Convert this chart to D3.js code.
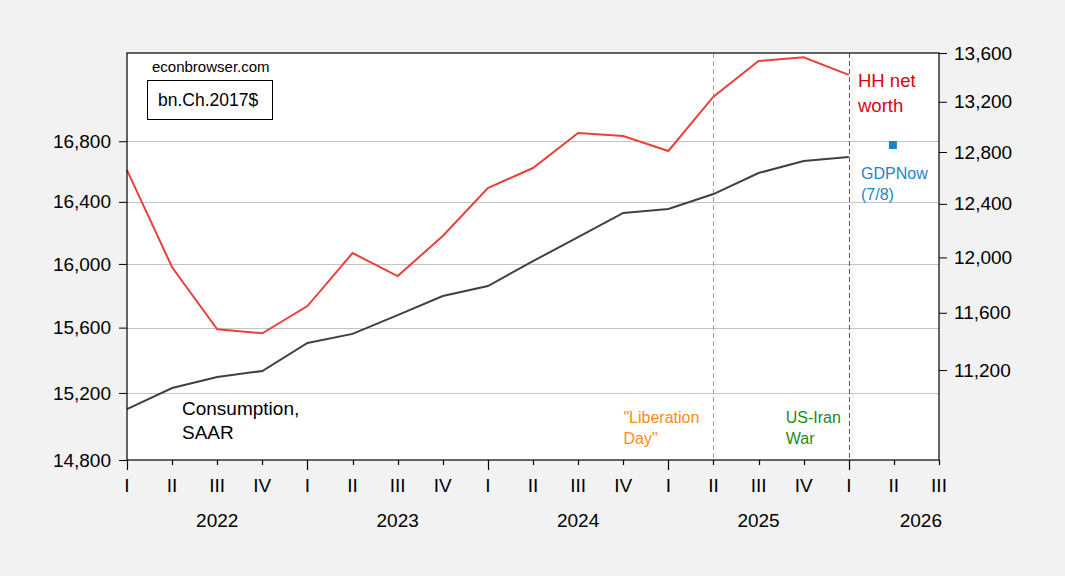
<!DOCTYPE html>
<html>
<head>
<meta charset="utf-8">
<script src="https://cdn.jsdelivr.net/npm/d3@7"></script>
<style>
  html, body { margin: 0; padding: 0; background: #f2f2f2; }
  svg { display: block; font-family: "Liberation Sans", Arial, sans-serif; }
</style>
</head>
<body>
<svg id="chart" width="1065" height="576"></svg>
<script>
// ---- data ----
const quarterLabels = ["I","II","III","IV","I","II","III","IV","I","II","III","IV","I","II","III","IV","I","II","III"];
const yearLabels = ["2022","2023","2024","2025","2026"];
const yearCenterIdx = [2, 6, 10, 14, 18];
const consumption = [15103, 15230, 15297, 15333, 15505, 15561, 15678, 15797, 15860, 16018, 16171, 16328, 16354, 16451, 16589, 16668, 16695];
const netWorth = [12659, 11928, 11483, 11455, 11648, 12032, 11864, 12158, 12521, 12675, 12950, 12926, 12808, 13241, 13534, 13565, 13419];
const gdpNow = [{ idx: 17, value: 16775 }];
const leftTicks = [14800, 15200, 15600, 16000, 16400, 16800];
const rightTicks = [11200, 11600, 12000, 12400, 12800, 13200, 13600];
const eventLines = [
  { idx: 13, color: "#ff8a14", lines: ["\"Liberation", "Day\""], dx: -90 },
  { idx: 16, color: "#1a8a1a", lines: ["US-Iran", "War"], dx: -63 }
];

// ---- layout ----
const svg = d3.select("#chart");
const L = 127, R = 939, T = 53, B = 460;
const snap = v => Math.round(v) + 0.5;

const x = d3.scaleLinear().domain([0, 18]).range([L, R]);
const yL = d3.scaleLog().domain([14800, 17400]).range([B, T]);
const yR = d3.scaleLog().domain([10600, 13600]).range([B, T]);

// plot background
svg.append("rect").attr("x", L).attr("y", T).attr("width", R - L).attr("height", B - T).attr("fill", "#fff");

// gridlines
svg.append("g").selectAll("line").data(leftTicks.slice(1)).join("line")
  .attr("x1", L).attr("x2", R)
  .attr("y1", d => snap(yL(d))).attr("y2", d => snap(yL(d)))
  .attr("stroke", "#c4c4c4").attr("stroke-width", 1);

// event lines
eventLines.forEach(e => {
  svg.append("line")
    .attr("x1", snap(x(e.idx))).attr("x2", snap(x(e.idx)))
    .attr("y1", T).attr("y2", B)
    .attr("stroke", e.color).attr("stroke-width", 1)
    .attr("stroke-dasharray", "5,3");
  const t = svg.append("text").attr("fill", e.color).attr("font-size", 16);
  e.lines.forEach((s, i) => {
    t.append("tspan").attr("x", x(e.idx) + e.dx).attr("y", 423 + i * 21).text(s);
  });
});

// lines
const lineL = d3.line().x((d, i) => x(i)).y(d => yL(d));
const lineR = d3.line().x((d, i) => x(i)).y(d => yR(d));
svg.append("path").datum(netWorth).attr("d", lineR)
  .attr("fill", "none").attr("stroke", "#e8413c").attr("stroke-width", 2);
svg.append("path").datum(consumption).attr("d", lineL)
  .attr("fill", "none").attr("stroke", "#404040").attr("stroke-width", 2);

// GDPNow point
svg.append("g").selectAll("rect").data(gdpNow).join("rect")
  .attr("x", d => x(d.idx) - 5).attr("y", d => yL(d.value) - 4)
  .attr("width", 8).attr("height", 8).attr("fill", "#1a86c8");

// frame
svg.append("rect").attr("x", L).attr("y", T).attr("width", R - L).attr("height", B - T)
  .attr("fill", "none").attr("stroke", "#000").attr("stroke-width", 1.2);

// left axis
const axL = svg.append("g").attr("transform", `translate(${L},0)`)
  .call(d3.axisLeft(yL).tickValues(leftTicks).tickFormat(d3.format(",")).tickSize(8).tickPadding(8));
axL.select(".domain").remove();
axL.selectAll("text").attr("font-size", 19).attr("fill", "#000").attr("font-family", "Liberation Sans, Arial, sans-serif");

// right axis
const axR = svg.append("g").attr("transform", `translate(${R},0)`)
  .call(d3.axisRight(yR).tickValues(rightTicks).tickFormat(d3.format(",")).tickSize(8).tickPadding(7));
axR.select(".domain").remove();
axR.selectAll("text").attr("font-size", 19).attr("fill", "#000").attr("font-family", "Liberation Sans, Arial, sans-serif");

// bottom axis ticks
const qIdx = d3.range(quarterLabels.length);
svg.append("g").selectAll("line").data(qIdx).join("line")
  .attr("x1", d => snap(x(d))).attr("x2", d => snap(x(d)))
  .attr("y1", B).attr("y2", d => d % 4 === 0 ? B + 10 : B + 5)
  .attr("stroke", "#000").attr("stroke-width", 1.2);
svg.append("g").selectAll("text").data(quarterLabels).join("text")
  .attr("x", (d, i) => x(i)).attr("y", 492)
  .attr("text-anchor", "middle").attr("font-size", 19).attr("fill", "#000")
  .text(d => d);
svg.append("g").selectAll("text").data(yearLabels).join("text")
  .attr("x", (d, i) => i === yearLabels.length - 1 ? x(yearCenterIdx[i]) + 3 : x(yearCenterIdx[i]))
  .attr("y", 527)
  .attr("text-anchor", (d, i) => i === yearLabels.length - 1 ? "end" : "middle")
  .attr("font-size", 19).attr("fill", "#000")
  .text(d => d);

// annotations
svg.append("text").attr("x", 152).attr("y", 72).attr("font-size", 15).attr("fill", "#000").text("econbrowser.com");
svg.append("rect").attr("x", 147.5).attr("y", 80.5).attr("width", 125).attr("height", 39)
  .attr("fill", "#fff").attr("stroke", "#000").attr("stroke-width", 1);
svg.append("text").attr("x", 158).attr("y", 106).attr("font-size", 17.5).attr("fill", "#000").text("bn.Ch.2017$");

const cons = svg.append("text").attr("font-size", 19).attr("fill", "#000");
cons.append("tspan").attr("x", 182).attr("y", 415).text("Consumption,");
cons.append("tspan").attr("x", 182).attr("y", 439).text("SAAR");

const hh = svg.append("text").attr("font-size", 18.5).attr("fill", "#e00010");
hh.append("tspan").attr("x", 858).attr("y", 87).text("HH net");
hh.append("tspan").attr("x", 858).attr("y", 112).text("worth");

const gn = svg.append("text").attr("font-size", 16).attr("fill", "#1a86c8");
gn.append("tspan").attr("x", 861).attr("y", 179).text("GDPNow");
gn.append("tspan").attr("x", 861).attr("y", 200).text("(7/8)");
</script>
</body>
</html>
